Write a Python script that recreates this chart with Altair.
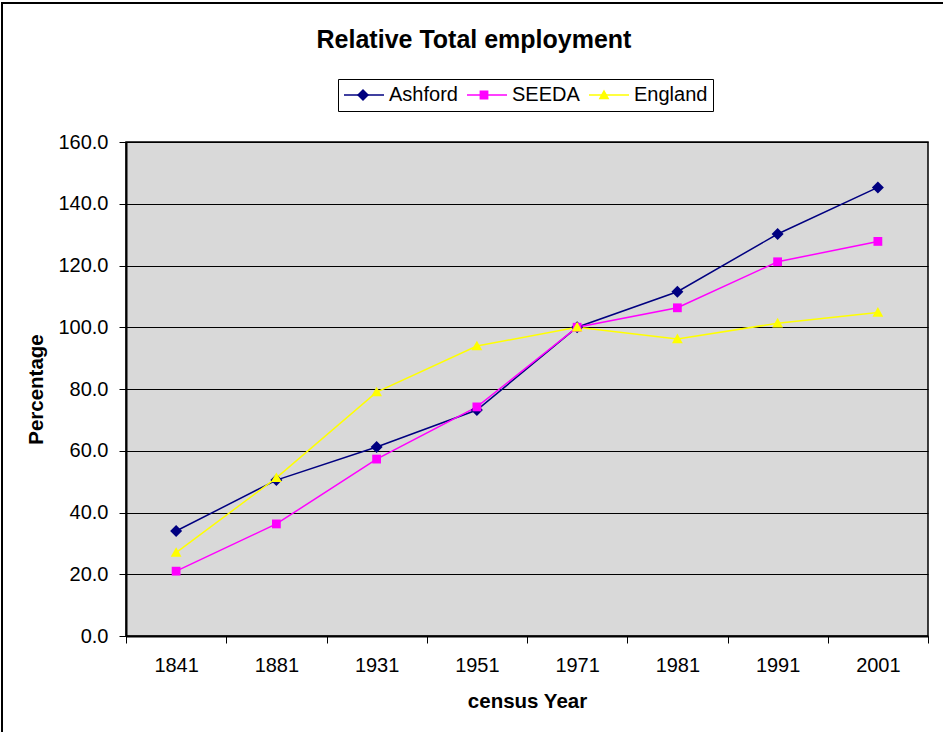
import altair as alt
import pandas as pd

years = ["1841", "1881", "1931", "1951", "1971", "1981", "1991", "2001"]
ashford = [34.0, 50.5, 61.2, 73.2, 100.0, 111.5, 130.2, 145.3]
seeda = [21.0, 36.3, 57.3, 74.2, 100.0, 106.3, 121.2, 127.8]
england = [27.0, 51.2, 79.0, 93.9, 100.0, 96.2, 101.3, 104.8]
series_names = ["Ashford", "SEEDA", "England"]
series_colors = ["#000080", "#FF00FF", "#FFFF00"]
y_ticks = [0, 20, 40, 60, 80, 100, 120, 140, 160]

# small marker paths (scaled by sqrt(size)/2)
shape_paths = [
    "M0,-0.3L0.3,0L0,0.3L-0.3,0Z",
    "M-0.22,-0.22L0.22,-0.22L0.22,0.22L-0.22,0.22Z",
    "M0,-0.27L0.27,0.21L-0.27,0.21Z",
]

rows = []
for name, vals in zip(series_names, [ashford, seeda, england]):
    for yr, v in zip(years, vals):
        rows.append({"Year": yr, "Series": name, "Marker": name + "_pt", "Value": v})
df = pd.DataFrame(rows)
marker_names = [n + "_pt" for n in series_names]

FONT = "Liberation Sans"
SYM = 1600

x_enc = alt.X(
    "Year:N",
    sort=years,
    scale=alt.Scale(type="band", paddingInner=0, paddingOuter=0),
    axis=alt.Axis(
        title="census Year",
        labelAngle=0,
        tickBand="extent",
        tickSize=7,
        labelPadding=12,
        titlePadding=16,
        grid=False,
        domainWidth=2,
    ),
)
y_enc = alt.Y(
    "Value:Q",
    scale=alt.Scale(domain=[0, 160], nice=False),
    axis=alt.Axis(
        title="Percentage",
        values=y_ticks,
        format=".1f",
        tickSize=7,
        labelPadding=11,
        titlePadding=11,
        grid=True,
        gridColor="black",
        gridWidth=1,
        domainWidth=2,
    ),
)

legend_common = dict(
    orient="none",
    legendX=212,
    legendY=-63,
    direction="horizontal",
    title=None,
    labelFont=FONT,
    labelFontSize=20,
    labelOffset=4,
    columnPadding=8,
    symbolSize=SYM,
    clipHeight=22,
    padding=5,
)

lines = alt.Chart(df).mark_line(strokeWidth=1.5).encode(
    x=x_enc,
    y=y_enc,
    stroke=alt.Stroke(
        "Series:N",
        scale=alt.Scale(domain=series_names, range=series_colors),
        legend=alt.Legend(
            symbolType="stroke",
            symbolStrokeWidth=1.5,
            fillColor="white",
            strokeColor="black",
            zindex=0,
            **legend_common,
        ),
    ),
    detail="Series:N",
)

pt_legend = alt.Legend(
    symbolStrokeWidth=0,
    labelColor="transparent",
    labelExpr="replace(datum.label, '_pt', '')",
    zindex=1,
    **legend_common,
)

points = alt.Chart(df).mark_point(filled=True, size=SYM, opacity=1, strokeWidth=0).encode(
    x=x_enc,
    y=y_enc,
    fill=alt.Fill(
        "Marker:N",
        scale=alt.Scale(domain=marker_names, range=series_colors),
        legend=pt_legend,
    ),
    shape=alt.Shape(
        "Marker:N",
        scale=alt.Scale(domain=marker_names, range=shape_paths),
        legend=pt_legend,
    ),
)

border = alt.Chart(pd.DataFrame({"a": [0]})).mark_rect(
    filled=False, stroke="black", strokeWidth=2
).encode(
    x=alt.value(-124), x2=alt.value(840), y=alt.value(-139), y2=alt.value(620)
)

chart = (
    alt.layer(border, lines, points)
    .properties(
        width=802,
        height=494,
        autosize=alt.AutoSizeParams(type="none"),
        padding={"left": 126, "top": 142, "right": 15, "bottom": 96},
        title=alt.TitleParams(
            "Relative Total employment",
            font=FONT,
            fontSize=25,
            fontWeight="bold",
            anchor="middle",
            dx=-53,
            offset=-51,
            color="black",
        ),
        background="white",
    )
    .configure_view(fill="#D9D9D9", stroke="black", strokeWidth=1.5)
    .configure_axis(
        labelFont=FONT,
        labelFontSize=20,
        labelColor="black",
        titleFont=FONT,
        titleFontSize=20.5,
        titleFontWeight="bold",
        titleColor="black",
        domainColor="black",
        tickColor="black",
        tickWidth=1,
    )
)

chart.save("out.html", embed_options={"renderer": "svg", "actions": False})
